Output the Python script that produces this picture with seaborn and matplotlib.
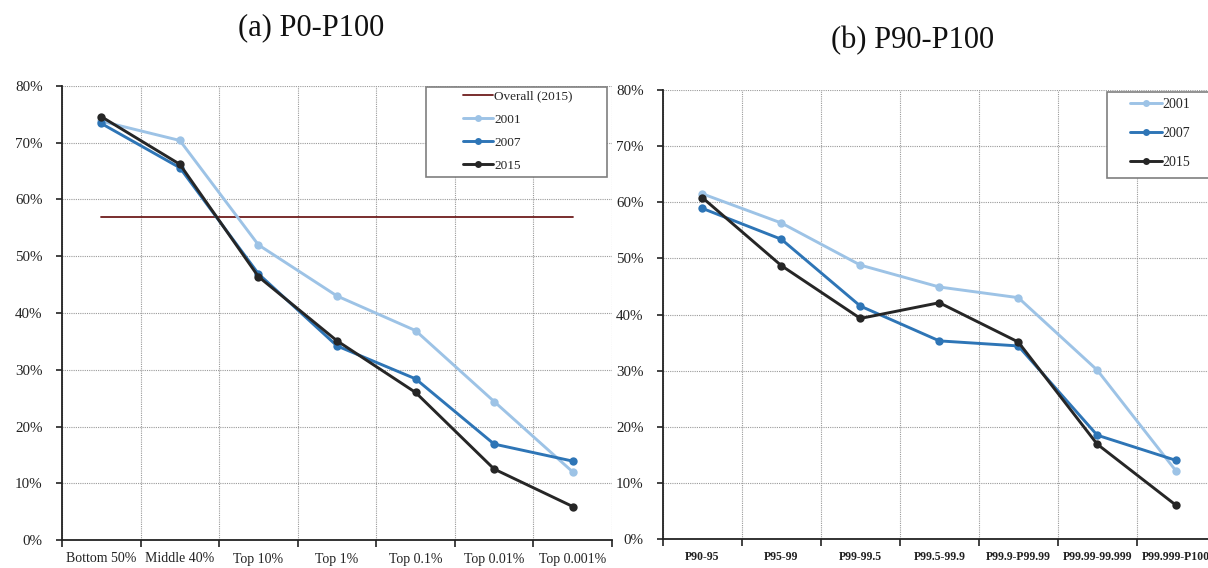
import matplotlib
matplotlib.use("Agg")
import matplotlib.pyplot as plt
from matplotlib.patches import Rectangle
from matplotlib.lines import Line2D
from matplotlib.ticker import FixedLocator, PercentFormatter
import seaborn as sns
import pandas as pd

sns.set_theme(style="white")
plt.rcParams["font.family"] = ["Liberation Serif", "DejaVu Serif"]

# ---- data -------------------------------------------------------------
groups_a = ["Bottom 50%", "Middle 40%", "Top 10%", "Top 1%", "Top 0.1%",
            "Top 0.01%", "Top 0.001%"]
a_2001 = [73.8, 70.4, 52.0, 43.0, 36.9, 24.4, 12.0]
a_2007 = [73.4, 65.6, 46.9, 34.2, 28.4, 16.9, 13.9]
a_2015 = [74.6, 66.2, 46.4, 35.1, 26.0, 12.5, 5.9]
overall_2015 = 56.9

groups_b = ["P90-95", "P95-99", "P99-99.5", "P99.5-99.9", "P99.9-P99.99",
            "P99.99-99.999", "P99.999-P100"]
b_2001 = [61.5, 56.3, 48.8, 44.9, 43.0, 30.1, 12.1]
b_2007 = [58.9, 53.4, 41.5, 35.3, 34.4, 18.5, 14.0]
b_2015 = [60.8, 48.7, 39.3, 42.1, 35.1, 16.9, 6.0]

years = ["2001", "2007", "2015"]
palette = {"2001": "#9dc3e6", "2007": "#2e75b6", "2015": "#262626"}
overall_color = "#6e1c1c"


def long_frame(groups, series):
    rows = []
    for year, vals in zip(years, series):
        for i, (g, v) in enumerate(zip(groups, vals)):
            rows.append({"pos": i, "group": g, "year": year, "value": v})
    return pd.DataFrame(rows)


df_a = long_frame(groups_a, [a_2001, a_2007, a_2015])
df_b = long_frame(groups_b, [b_2001, b_2007, b_2015])

fig = plt.figure(figsize=(12.08, 5.68), dpi=100)
ax_a = fig.add_axes([62 / 1208, 1 - 540 / 568, 550 / 1208, 454 / 568])
ax_b = fig.add_axes([663 / 1208, 1 - 539 / 568, 552.6 / 1208, 449 / 568])


def style_axes(ax, groups, tick_font):
    n = len(groups)
    ax.set_xlim(-0.5, n - 0.5)
    ax.set_ylim(0, 80)
    ax.yaxis.set_major_locator(FixedLocator(range(0, 81, 10)))
    ax.yaxis.set_major_formatter(PercentFormatter(decimals=0))
    # boundaries carry the ticks and grid, centres carry the labels
    ax.xaxis.set_major_locator(FixedLocator([i - 0.5 for i in range(n + 1)]))
    ax.xaxis.set_minor_locator(FixedLocator(range(n)))
    ax.set_xticklabels([""] * (n + 1))
    ax.set_xticklabels(groups, minor=True, **tick_font)
    ax.tick_params(axis="x", which="major", direction="out", length=5,
                   width=1.2, color="#222222", bottom=True)
    ax.tick_params(axis="x", which="minor", length=0, pad=9)
    ax.tick_params(axis="y", which="major", direction="out", length=4,
                   width=1.2, color="#222222", left=True, labelsize=10.8,
                   pad=10, labelcolor="#222222")
    ax.grid(True, which="major", axis="both", color="#9a9a9a",
            linestyle=(0, (1, 1)), linewidth=0.8)
    for s in ("top", "right"):
        ax.spines[s].set_visible(False)
    for s in ("left", "bottom"):
        ax.spines[s].set_color("#222222")
        ax.spines[s].set_linewidth(1.3)
    ax.set_xlabel("")
    ax.set_ylabel("")
    ax.set_facecolor("white")


def draw_lines(ax, df):
    sns.lineplot(data=df, x="pos", y="value", hue="year", hue_order=years,
                 palette=palette, marker="o", markersize=6, linewidth=2.1,
                 markeredgewidth=0, ax=ax, legend=False, sort=False,
                 zorder=3)


def framed_legend(ax, handles, labels, frame, anchor, spacing, size):
    ax.add_patch(Rectangle((frame[0], frame[1]), frame[2] - frame[0],
                           frame[3] - frame[1], transform=ax.transAxes,
                           facecolor="white", edgecolor="#7f7f7f",
                           linewidth=1.2, zorder=6, clip_on=False))
    leg = ax.legend(handles, labels, loc="upper left", bbox_to_anchor=anchor,
                    frameon=False, fontsize=size, handlelength=2.3,
                    handletextpad=0.05, labelspacing=spacing, borderpad=0,
                    borderaxespad=0)
    leg.set_zorder(7)


def handle(color, marker=True, lw=2.1):
    return Line2D([], [], color=color, linewidth=lw,
                  marker="o" if marker else None, markersize=5,
                  markeredgewidth=0)


# ---- panel (a) --------------------------------------------------------
draw_lines(ax_a, df_a)
ax_a.plot([0, len(groups_a) - 1], [overall_2015, overall_2015],
          color=overall_color, linewidth=1.3, zorder=2.5)
style_axes(ax_a, groups_a, {"fontsize": 10, "color": "#222222"})
framed_legend(ax_a,
              [handle(overall_color, marker=False, lw=1.3)]
              + [handle(palette[y]) for y in years],
              ["Overall (2015)"] + years,
              frame=(0.662, 0.7996, 0.991, 0.998),
              anchor=(0.729, 0.9905), spacing=0.82, size=9.5)

# ---- panel (b) --------------------------------------------------------
draw_lines(ax_b, df_b)
style_axes(ax_b, groups_b, {"fontsize": 8.5, "fontweight": "bold",
                            "color": "#222222"})
framed_legend(ax_b, [handle(palette[y]) for y in years], years,
              frame=(0.8035, 0.805, 1.0, 0.996),
              anchor=(0.845, 0.982), spacing=1.15, size=10)

# ---- panel titles -----------------------------------------------------
fig.text(311 / 1208, 1 - 28 / 568, "(a) P0-P100", ha="center", va="center",
         fontsize=22, color="#111111")
fig.text(913 / 1208, 1 - 41 / 568, "(b) P90-P100", ha="center", va="center",
         fontsize=22, color="#111111")

fig.savefig("out.png", dpi=100, facecolor="white")
